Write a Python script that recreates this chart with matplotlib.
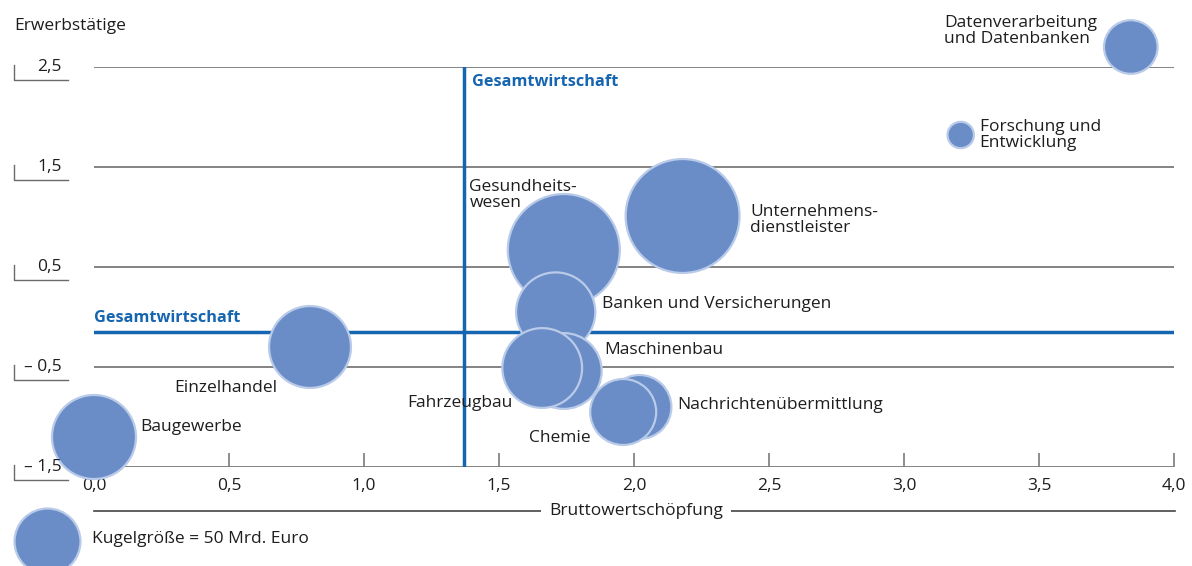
import numpy as np
import matplotlib
matplotlib.use("Agg")
import matplotlib.pyplot as plt
import matplotlib.transforms as mtransforms
from matplotlib.lines import Line2D

plt.rcParams['font.family'] = ['Open Sans', 'DejaVu Sans']

# Daten (Veränderung Bruttowertschöpfung / Erwerbstätige, Größe in Mrd. Euro)
branchen = ["Baugewerbe", "Einzelhandel", "Gesundheitswesen", "Unternehmensdienstleister",
            "Banken und Versicherungen", "Maschinenbau", "Fahrzeugbau",
            "Nachrichtenübermittlung", "Chemie", "Forschung und Entwicklung",
            "Datenverarbeitung und Datenbanken"]
bws = [0.0, 0.8, 1.74, 2.18, 1.71, 1.74, 1.66, 2.02, 1.96, 3.21, 3.84]
erwerb = [-1.2, -0.3, 0.67, 1.01, 0.05, -0.54, -0.51, -0.9, -0.95, 1.82, 2.7]
groesse = [81, 77, 144, 149, 72, 66, 73, 47, 50, 8, 33]

gesamt_bws = 1.37
gesamt_erwerb = -0.15

x_ticks = [0.0, 0.5, 1.0, 1.5, 2.0, 2.5, 3.0, 3.5, 4.0]
y_ticks = [2.5, 1.5, 0.5, -0.5, -1.5]
y_labels = ["2,5", "1,5", "0,5", "\u2013 0,5", "\u2013 1,5"]

legende_wert = 50

# Stil
W, H = 1192, 566
blau = "#6A8DC8"
rand = "#B9CBE9"
linie_blau = "#1565B0"
text_farbe = "#1E1E1E"
fs = 12.5
fs_bold = 11.7
skala = (1.44 * 33) ** 2 / legende_wert  # Punkte^2 pro Mrd. Euro

fig = plt.figure(figsize=(W / 100, H / 100), dpi=100)
ax = fig.add_axes([94 / W, 1 - 467 / H, (1174 - 94) / W, 400 / H])
ax.set_xlim(0, 4)
ax.set_ylim(-1.5, 2.5)
for s in ax.spines.values():
    s.set_visible(False)

# Gitterlinien
for y in y_ticks:
    ax.axhline(y, color="#7A7A7A", lw=1.3, zorder=0)

# Gesamtwirtschaft
ax.axhline(gesamt_erwerb, color=linie_blau, lw=2.5, zorder=1)
ax.plot([gesamt_bws, gesamt_bws], [-1.5, 2.5], color=linie_blau, lw=2.5, zorder=1)
ax.text(gesamt_bws + 0.03, 2.35, "Gesamtwirtschaft", color=linie_blau, fontsize=fs_bold,
        fontweight="bold", ha="left", va="center")
ax.text(0.0, -0.01, "Gesamtwirtschaft", color=linie_blau, fontsize=fs_bold,
        fontweight="bold", ha="left", va="center")

# Blasen
ax.scatter(bws, erwerb, s=np.array(groesse) * skala, color=blau, edgecolor=rand,
           linewidth=1.6, zorder=3, clip_on=False)

# Beschriftungen
labels = [
    ("Baugewerbe", 0.17, -1.1, "left"),
    ("Einzelhandel", 0.68, -0.71, "right"),
    ("Gesundheits-\nwesen", 1.39, 1.22, "left"),
    ("Unternehmens-\ndienstleister", 2.43, 0.97, "left"),
    ("Banken und Versicherungen", 1.88, 0.13, "left"),
    ("Maschinenbau", 1.89, -0.33, "left"),
    ("Fahrzeugbau", 1.55, -0.86, "right"),
    ("Nachrichtenübermittlung", 2.16, -0.88, "left"),
    ("Chemie", 1.61, -1.21, "left"),
    ("Forschung und\nEntwicklung", 3.28, 1.82, "left"),
    ("Datenverarbeitung\nund Datenbanken", 3.15, 2.86, "left"),
]
for txt, x, y, ha in labels:
    ax.text(x, y, txt, fontsize=fs, color=text_farbe, ha=ha, va="center",
            linespacing=0.95, clip_on=False)

# x-Achse
ax.set_xticks(x_ticks)
ax.set_xticklabels([f"{v:.1f}".replace(".", ",") for v in x_ticks], fontsize=fs,
                   color=text_farbe)
ax.tick_params(axis="x", direction="in", length=10, width=1.2, color="#7A7A7A", pad=8)
ax.set_yticks([])

# y-Achse: Beschriftungen mit Winkel
trans = mtransforms.blended_transform_factory(fig.transFigure, ax.transData)
for y, lab in zip(y_ticks, y_labels):
    ax.text(62 / W, y, lab, transform=trans, fontsize=fs, color=text_farbe,
            ha="right", va="center", clip_on=False)
    ax.plot([14 / W, 14 / W, 68 / W], [y + 0.02, y - 0.13, y - 0.13], transform=trans,
            color="#6A6A6A", lw=1.0, clip_on=False)

fig.text(14 / W, 1 - 26 / H, "Erwerbstätige", fontsize=fs, color=text_farbe,
         ha="left", va="center")

# Achsentitel x
fig.add_artist(Line2D([94 / W, 1175 / W], [1 - 511 / H, 1 - 511 / H],
                      transform=fig.transFigure, color="#444444", lw=1.2))
fig.text(636 / W, 1 - 511 / H, "Bruttowertschöpfung", fontsize=fs, color=text_farbe,
         ha="center", va="center",
         bbox=dict(facecolor="white", edgecolor="none", pad=6))

# Legende
ax.scatter([47 / W], [1 - 541 / H], s=legende_wert * skala, color=blau, edgecolor=rand,
           linewidth=1.6, transform=fig.transFigure, clip_on=False, zorder=3)
fig.text(92 / W, 1 - 539 / H, "Kugelgröße = 50 Mrd. Euro", fontsize=fs,
         color=text_farbe, ha="left", va="center")

fig.savefig("out.png", dpi=100, facecolor="white")
